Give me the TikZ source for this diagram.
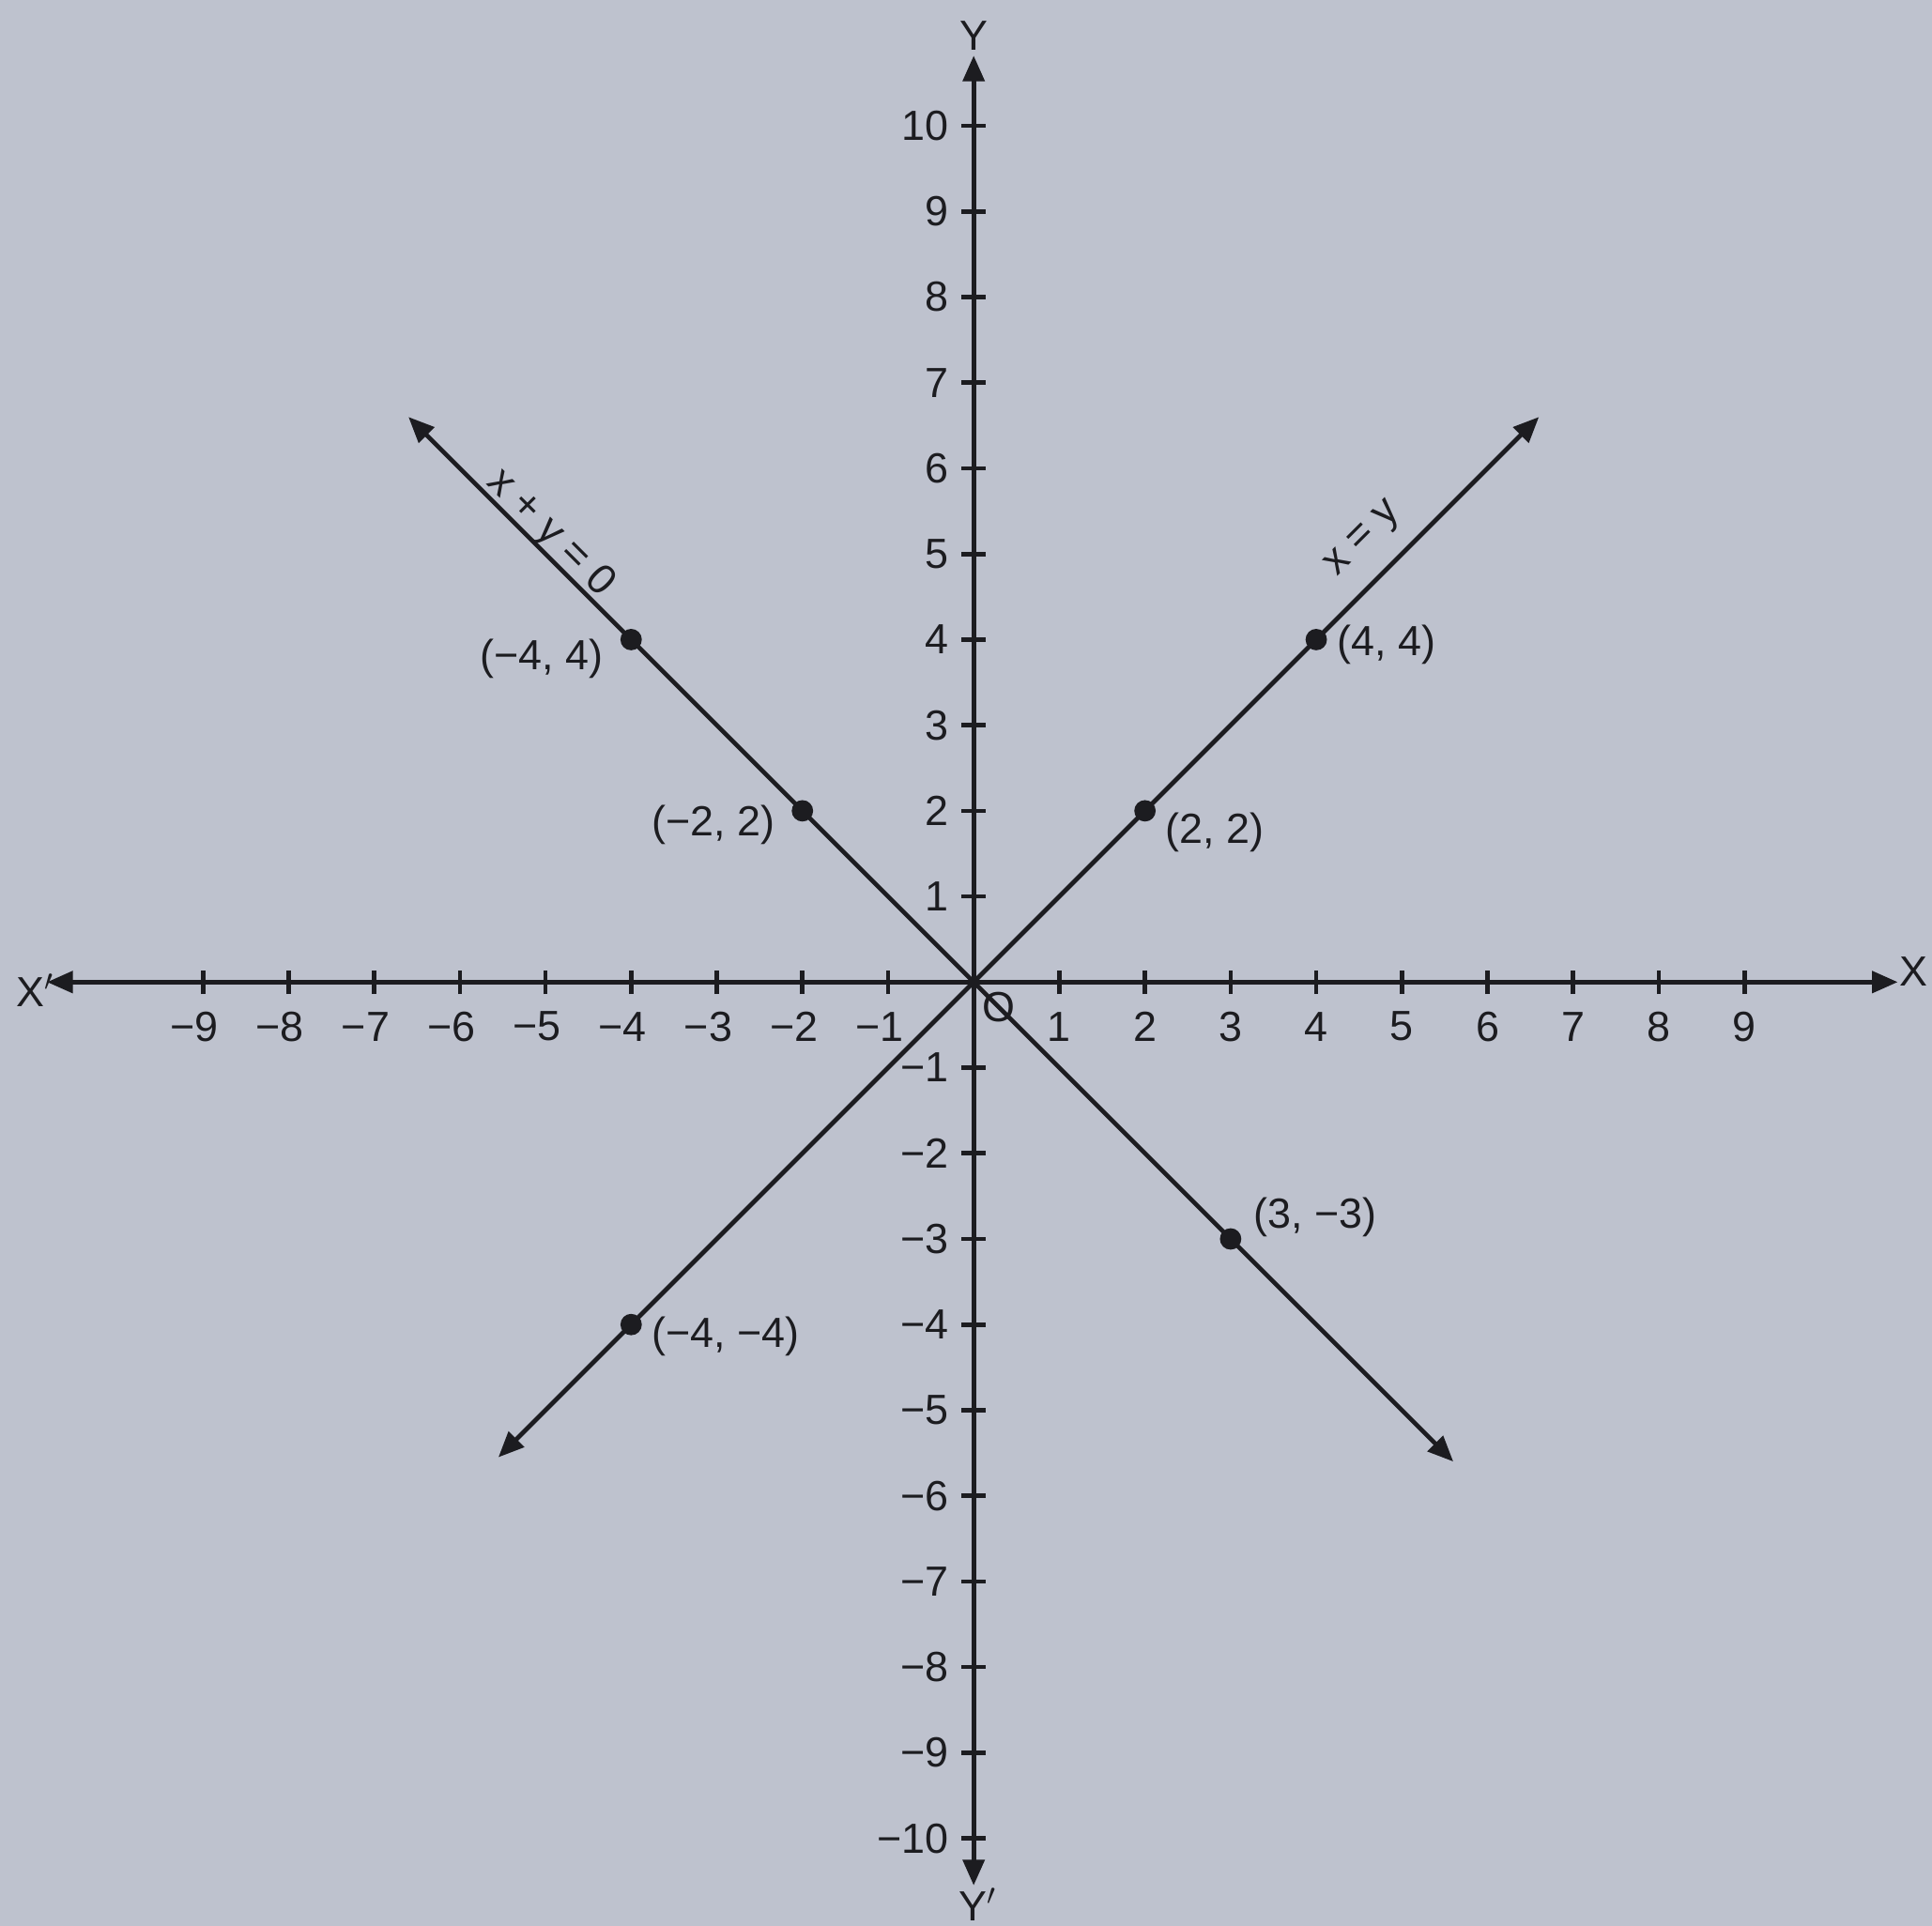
\documentclass[tikz,border=0pt]{standalone}
\usepackage{fontspec}
\setmainfont{Liberation Sans}
\usetikzlibrary{arrows.meta}
\definecolor{paper}{RGB}{190,194,206}
\definecolor{ink}{RGB}{28,28,32}
\begin{document}
\begin{tikzpicture}[x=1cm,y=1cm,
  font=\fontsize{14}{16}\selectfont,
  every node/.style={text=ink},
  axis/.style={draw=ink,line width=1.45pt,-{Triangle[length=0.3cm,width=0.25cm]}},
  graphline/.style={draw=ink,line width=1.45pt,{Triangle[length=0.3cm,width=0.25cm]}-{Triangle[length=0.3cm,width=0.25cm]}},
  tick/.style={draw=ink,line width=1.45pt},
  dot/.style={circle,fill=ink,inner sep=0pt,minimum size=0.25cm}]
\fill[paper] (-11.37,-11.02) rectangle (11.19,11.47);
\useasboundingbox (-11.37,-11.02) rectangle (11.19,11.47);
% axes
\coordinate (O) at (0,0);
\coordinate (xl) at (-10.82,0);
\coordinate (xr) at (10.79,0);
\coordinate (yt) at (0,10.82);
\coordinate (yb) at (0,-10.55);
\draw[axis] (O) -- (xr);
\draw[axis] (O) -- (xl);
\draw[axis] (O) -- (yt);
\draw[axis] (O) -- (yb);
\node (lX) at (10.98,0.12) {X};
\node (lXp) at (-10.96,-0.1) {X$'$};
\node (lY) at (0,11.05) {Y};
\node (lYp) at (0.05,-10.77) {Y$'$};
\node (lO) at (0.29,-0.29) {O};
% ticks
\foreach \i in {1,...,9}{
  \draw[tick] (\i,-0.14) -- (\i,0.14);
  \draw[tick] (-\i,-0.14) -- (-\i,0.14);
  \node (tx\i) at (\i,-0.52) {\i};
  \node (txm\i) at (-\i-0.1,-0.52) {−\i};
}
\foreach \i in {1,...,10}{
  \draw[tick] (-0.14,\i) -- (0.14,\i);
  \draw[tick] (-0.14,-\i) -- (0.14,-\i);
  \node[anchor=east] (ty\i) at (-0.17,\i) {\i};
  \node[anchor=east] (tym\i) at (-0.17,-\i) {−\i};
}
% lines
\coordinate (a1) at (-5.55,-5.55);
\coordinate (a2) at (6.6,6.6);
\coordinate (b1) at (-6.6,6.6);
\coordinate (b2) at (5.6,-5.6);
\draw[graphline] (a1) -- (a2);
\draw[graphline] (b1) -- (b2);
\node[rotate=45] (lxy) at (4.56,5.16) {x = y};
\node[rotate=-45] (lxpy) at (-4.94,5.24) {x + y = 0};
% points
\node[dot] (p1) at (-4,4) {};
\node[dot] (p2) at (-2,2) {};
\node[dot] (p3) at (4,4) {};
\node[dot] (p4) at (2,2) {};
\node[dot] (p5) at (3,-3) {};
\node[dot] (p6) at (-4,-4) {};
\node[anchor=east] (q1) at ([xshift=-0.2cm,yshift=-0.22cm]p1) {(−4, 4)};
\node[anchor=east] (q2) at ([xshift=-0.2cm,yshift=-0.16cm]p2) {(−2, 2)};
\node[anchor=west] (q3) at ([xshift=0.12cm,yshift=-0.06cm]p3) {(4, 4)};
\node[anchor=west] (q4) at ([xshift=0.12cm,yshift=-0.25cm]p4) {(2, 2)};
\node[anchor=west] (q5) at ([xshift=0.15cm,yshift=0.25cm]p5) {(3, −3)};
\node[anchor=west] (q6) at ([xshift=0.12cm,yshift=-0.14cm]p6) {(−4, −4)};
\end{tikzpicture}
\end{document}
